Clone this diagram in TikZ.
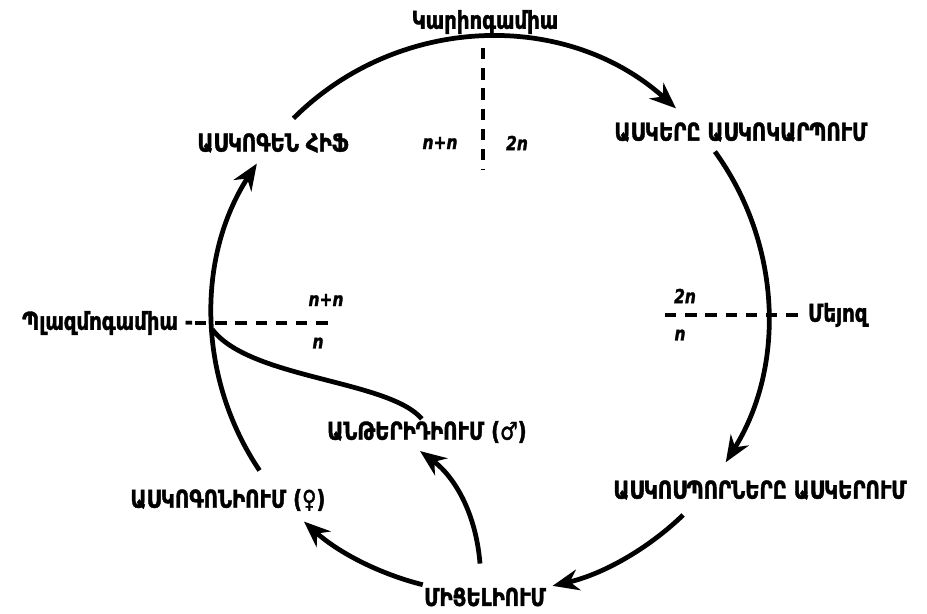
\documentclass[tikz,border=0pt]{standalone}
\usepackage{fontspec}
\setmainfont{DejaVu Sans}[FakeStretch=0.8,FakeBold=1.5]
\usetikzlibrary{arrows.meta}

\begin{document}
\begin{tikzpicture}[x=0.02cm,y=0.02cm,
    cyc/.style={line width=2.7pt,-{Stealth[length=15pt,width=12pt]}},
    lbl/.style={font=\fontsize{14}{16}\selectfont\bfseries,inner sep=1pt},
    ploid/.style={font=\fontsize{11}{13}\selectfont\bfseries\itshape,inner sep=1pt},
    dsh/.style={line width=1.9pt,dash pattern=on 6.5pt off 5pt}]
        \useasboundingbox (0,0) rectangle (927,614);
        \coordinate (ctr) at (490,299);
        % stages round the cycle
        \node[lbl] (karyo) at (485,592) {Կարիոգամիա};
        \node[lbl] (hyph) at (273,471) {ԱՍԿՈԳԵՆ ՀԻՖ};
        \node[lbl] (asci) at (741,482) {ԱՍԿԵՐԸ ԱՍԿՈԿԱՐՊՈՒՄ};
        \node[lbl,anchor=east] (plasmo) at (195,291) {Պլազմոգամիա -};
        \node[lbl,anchor=west] (meio) at (806,299) {Մեյոզ};
        \node[lbl] (anth) at (427,182) {ԱՆԹԵՐԻԴԻՈՒՄ (♂)};
        \node[lbl] (ascog) at (228,114) {ԱՍԿՈԳՈՆԻՈՒՄ (♀)};
        \node[lbl] (spores) at (760,124) {ԱՍԿՈՍՊՈՐՆԵՐԸ ԱՍԿԵՐՈՒՄ};
        \node[lbl] (myc) at (485,17) {ՄԻՑԵԼԻՈՒՄ};
        % ploidy marks
        \node[ploid] (k1) at (440,471) {n+n};
        \node[ploid] (k2) at (517,471) {2n};
        \node[ploid] (p1) at (326,314) {n+n};
        \node[ploid] (p2) at (318,271) {n};
        \node[ploid] (m1) at (685,318) {2n};
        \node[ploid] (m2) at (680,279) {n};
        % dashed dividers
        \draw[dsh] (karyo.south) ++(-2,-12) -- (483,444);
        \draw[dsh] (plasmo.east) -- (335,291);
        \draw[dsh] (665,299) -- (meio.west);
        % the big circle, piece by piece
        \draw[cyc] ([shift={(135:278)}]ctr) arc[start angle=135,end angle=48,radius=278];
        \draw[cyc] ([shift={(36:278)}]ctr) arc[start angle=36,end angle=-32,radius=278];
        \draw[cyc] ([shift={(-46:278)}]ctr) arc[start angle=-46,end angle=-77,radius=278];
        \draw[cyc] ([shift={(-104:278)}]ctr) arc[start angle=-104,end angle=-132,radius=278];
        \draw[cyc] ([shift={(-146:278)}]ctr) arc[start angle=-146,end angle=-213,radius=278];
        \coordinate (plasm) at ([shift={(183:278)}]ctr);
        % mycelium to antheridium, antheridium to plasmogamy
        \draw[cyc] ([shift={(-5,22)}]myc.north) .. controls +(-4,50) and +(35,-26) .. ([shift={(-7,-6)}]anth.south);
        \draw[line width=2.7pt] ([xshift=55]anth.north west) .. controls +(-33,39) and (250,235) .. (plasm);
\end{tikzpicture}
\end{document}
